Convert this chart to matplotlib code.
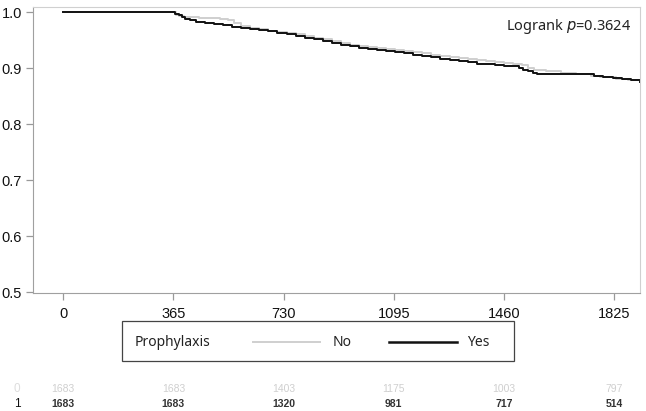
import numpy as np
import matplotlib
matplotlib.use("Agg")
import matplotlib.pyplot as plt
from matplotlib.lines import Line2D
from matplotlib.patches import Rectangle
from matplotlib.transforms import blended_transform_factory

# Curvas de supervivencia (escalon post)
t_yes = [0, 370, 385, 395, 405, 420, 440, 470, 500, 530, 560, 590, 620, 650, 680,
         710, 740, 770, 800, 830, 860, 890, 920, 950, 980, 1010, 1040, 1070, 1100,
         1130, 1160, 1190, 1220, 1250, 1280, 1310, 1340, 1370, 1400, 1430, 1460,
         1490, 1510, 1525, 1540, 1555, 1570, 1760, 1790, 1820, 1850, 1880, 1910]
s_yes = [1.0, 0.997, 0.994, 0.991, 0.988, 0.985, 0.982, 0.980, 0.978, 0.976, 0.974,
         0.972, 0.970, 0.968, 0.966, 0.963, 0.960, 0.957, 0.954, 0.951, 0.948, 0.945,
         0.942, 0.939, 0.936, 0.934, 0.932, 0.930, 0.928, 0.926, 0.924, 0.922, 0.920,
         0.917, 0.914, 0.912, 0.910, 0.908, 0.907, 0.905, 0.904, 0.903, 0.900, 0.897,
         0.894, 0.891, 0.889, 0.886, 0.884, 0.882, 0.880, 0.878, 0.876]

t_no = [0, 375, 385, 400, 450, 520, 545, 565, 590, 620, 650, 680, 710, 740, 770,
        800, 830, 860, 890, 920, 950, 980, 1010, 1040, 1070, 1100, 1130, 1160, 1190,
        1220, 1250, 1280, 1310, 1340, 1370, 1400, 1430, 1460, 1490, 1520, 1540, 1560,
        1600, 1650, 1700, 1750, 1780, 1830, 1870, 1910]
s_no = [1.0, 0.995, 0.993, 0.992, 0.990, 0.988, 0.985, 0.980, 0.975, 0.971, 0.969,
        0.967, 0.965, 0.962, 0.960, 0.957, 0.954, 0.951, 0.948, 0.945, 0.942, 0.940,
        0.938, 0.936, 0.934, 0.932, 0.930, 0.928, 0.926, 0.924, 0.922, 0.920, 0.918,
        0.916, 0.914, 0.912, 0.910, 0.909, 0.907, 0.905, 0.900, 0.896, 0.894, 0.892,
        0.889, 0.886, 0.884, 0.881, 0.879, 0.877]

# Tabla de pacientes en riesgo
ticks_x = [0, 365, 730, 1095, 1460, 1825]
riesgo_no = [1683, 1683, 1403, 1175, 1003, 797]
riesgo_yes = [1683, 1683, 1320, 981, 717, 514]
ticks_y = [0.5, 0.6, 0.7, 0.8, 0.9, 1.0]

col_no = "#cfcfcf"
col_yes = "#111111"

plt.rcParams["font.family"] = ["Liberation Sans", "DejaVu Sans"]

fig = plt.figure(figsize=(6.46, 4.11), dpi=100)
ax = fig.add_axes([33 / 646, 1 - 293 / 411, 607 / 646, 286 / 411])

ax.step(t_no, s_no, where="post", color=col_no, lw=1.4)
ax.step(t_yes, s_yes, where="post", color=col_yes, lw=1.4)

ax.set_xlim(-100, 1911)
ax.set_ylim(0.4985, 1.009)
ax.set_xticks(ticks_x)
ax.set_yticks(ticks_y)
ax.set_yticklabels([f"{v:.1f}" for v in ticks_y])
ax.tick_params(colors="#999999", labelcolor="#111111", labelsize=10.5, length=5,
               width=0.9)
ax.tick_params(axis="x", pad=5)
ax.tick_params(axis="y", pad=3)
for lado in ["left", "bottom"]:
    ax.spines[lado].set_color("#a0a0a0")
for lado in ["top", "right"]:
    ax.spines[lado].set_color("#d0d0d0")

ax.text(0.985, 0.965, r"Logrank $p$=0.3624", transform=ax.transAxes, ha="right",
        va="top", fontsize=10.5, family=["Noto Sans", "DejaVu Sans"], color="#222222")

# Leyenda
fig.add_artist(Rectangle((122 / 646, 1 - 361 / 411), 392 / 646, 40 / 411,
                         transform=fig.transFigure, fill=False, ec="#444444", lw=0.9))
yl = 1 - 342 / 411
fig.text(135 / 646, yl, "Prophylaxis", va="center", fontsize=10,
         family="Noto Sans", color="#222222")
fig.add_artist(Line2D([253 / 646, 320 / 646], [yl, yl], transform=fig.transFigure,
                      color=col_no, lw=1.4))
fig.text(333 / 646, yl, "No", va="center", fontsize=10, family="Noto Sans",
         color="#222222")
fig.add_artist(Line2D([389 / 646, 457 / 646], [yl, yl], transform=fig.transFigure,
                      color=col_yes, lw=1.8))
fig.text(467 / 646, yl, "Yes", va="center", fontsize=10, family="Noto Sans",
         color="#222222")

# Numeros en riesgo
tr = blended_transform_factory(ax.transData, fig.transFigure)
y0 = 1 - 389 / 411
y1 = 1 - 404 / 411
fig.text(17 / 646, y0, "0", ha="center", va="center", fontsize=8.5, color="#dddddd")
fig.text(17 / 646, y1, "1", ha="center", va="center", fontsize=8.5, color=col_yes)
for x, a, b in zip(ticks_x, riesgo_no, riesgo_yes):
    fig.text(x, y0, str(a), transform=tr, ha="center", va="center", fontsize=7.5,
             color=col_no)
    fig.text(x, y1, str(b), transform=tr, ha="center", va="center", fontsize=7.5,
             color="#333333", fontweight="bold")

fig.savefig("out.png", dpi=100)
